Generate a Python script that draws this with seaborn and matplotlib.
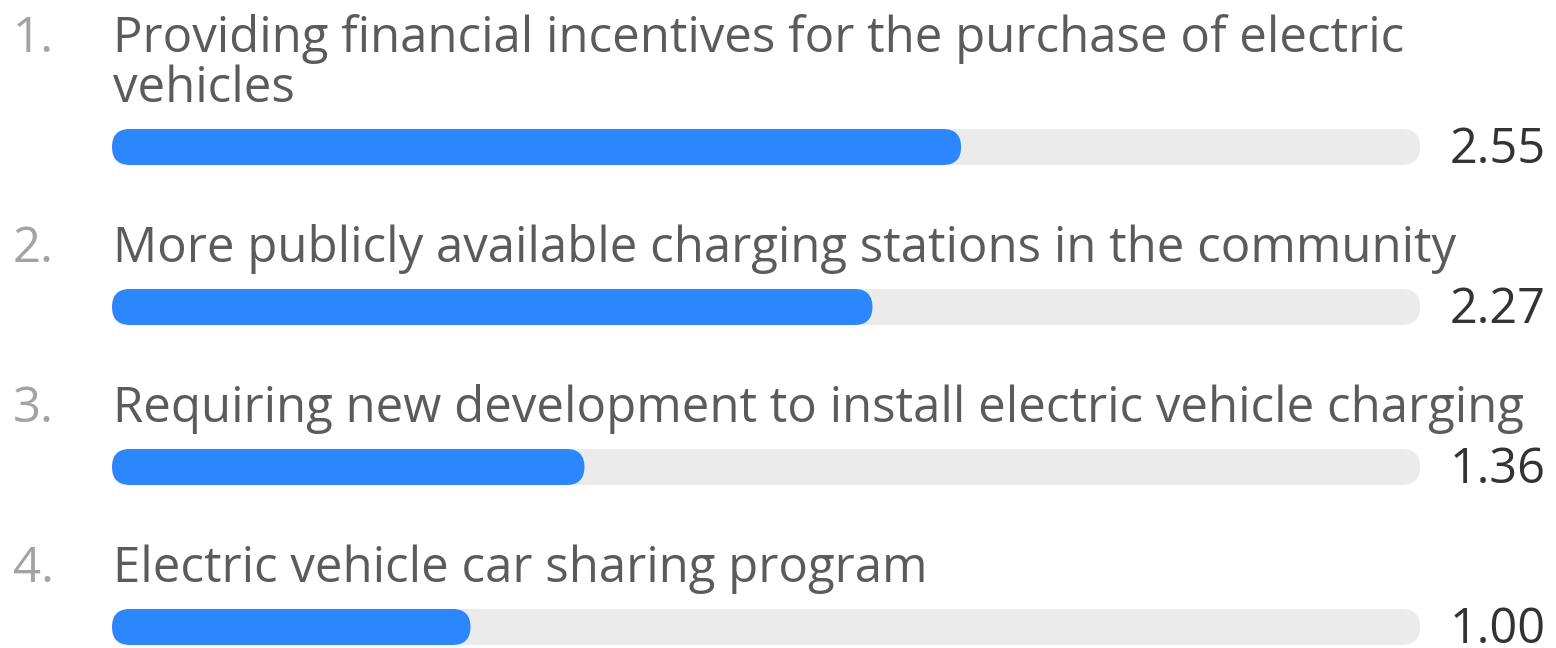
import numpy as np
import pandas as pd
import seaborn as sns
import matplotlib.pyplot as plt
from matplotlib.patches import FancyBboxPatch

# ---- data ----
ranks = ["1.", "2.", "3.", "4."]
labels = [
    "Providing financial incentives for the purchase of electric\nvehicles",
    "More publicly available charging stations in the community",
    "Requiring new development to install electric vehicle charging",
    "Electric vehicle car sharing program",
]
scores = [2.55, 2.27, 1.36, 1.00]
max_score = 4

df = pd.DataFrame({"item": labels, "score": scores,
                   "track": [max_score] * len(labels)})

# ---- layout (pixels) ----
W, H = 1556, 648
X0 = 154                       # pixel where score 0 sits
PX_PER_UNIT = (1420 - X0) / max_score
Y0, ROW = 147, 160             # centre of first bar, row pitch
BAR_PX = 36
CAP_PX = 42                    # minimum bar length (rounded start)

BLUE = "#2C86FD"
TRACK = "#EBEBEB"
LABEL_C = "#5B5B5B"
RANK_C = "#A3A3A3"
VALUE_C = "#333333"


def px_x(p):
    return (p - X0) / PX_PER_UNIT


sns.set_theme(style="white")
plt.rcParams["font.family"] = ["Open Sans", "DejaVu Sans"]

fig = plt.figure(figsize=(W / 100, H / 100), dpi=100)
ax = fig.add_axes([0, 0, 1, 1])

bw = BAR_PX / ROW
sns.barplot(data=df, x="track", y="item", order=labels, color=TRACK,
            saturation=1, width=bw, linewidth=0, ax=ax)
sns.barplot(data=df, x="score", y="item", order=labels, color=BLUE,
            saturation=1, width=bw, linewidth=0, ax=ax)

# turn the square bars into pill shapes
aspect = PX_PER_UNIT / ROW
rad = BAR_PX / 2 / PX_PER_UNIT
cap = CAP_PX / PX_PER_UNIT
for p in list(ax.patches):
    x, y = p.get_x(), p.get_y()
    w, h = p.get_width(), p.get_height()
    ax.add_patch(FancyBboxPatch(
        (x - cap, y), w + cap, h,
        boxstyle=f"round,pad=0,rounding_size={rad}",
        mutation_aspect=aspect, facecolor=p.get_facecolor(),
        edgecolor="none", zorder=p.get_zorder()))
    p.remove()

ax.set_xlim(px_x(0), px_x(W))
ax.set_ylim((H - Y0) / ROW, -Y0 / ROW)
ax.axis("off")

# ---- text ----
for i, (rk, lab, sc) in enumerate(zip(ranks, labels, scores)):
    lines = lab.split("\n")
    n = len(lines)
    for j, line in enumerate(lines):
        y = i + (-45 - 50 * (n - 1 - j)) / ROW
        ax.text(px_x(113), y, line, fontsize=35.4, color=LABEL_C,
                ha="left", va="baseline")
        if j == 0:
            ax.text(px_x(13), y, rk, fontsize=35.4, color=RANK_C,
                    ha="left", va="baseline")
    ax.text(px_x(1546), i + 16 / ROW, f"{sc:.2f}", fontsize=35,
            color=VALUE_C, ha="right", va="baseline")

fig.savefig("out.png", dpi=100, facecolor="white")
plt.close(fig)
